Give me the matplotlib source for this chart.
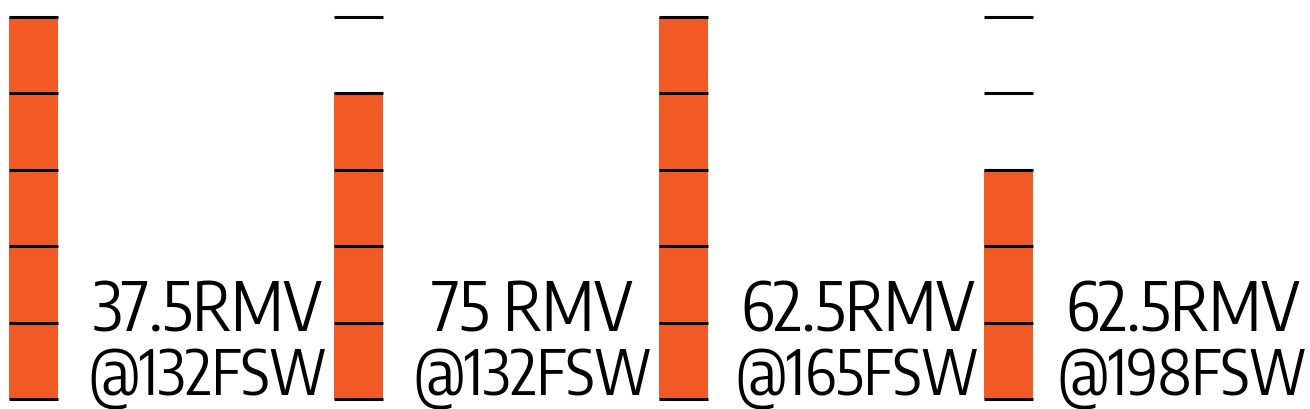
import matplotlib
matplotlib.use("Agg")
import matplotlib.pyplot as plt

# ---- data ----
levels = [5, 4, 5, 3]          # filled segments per tank
capacity = 5                   # total segments per tank
rmv_labels = ["37.5RMV", "75 RMV", "62.5RMV", "62.5RMV"]
depth_labels = ["@132FSW", "@132FSW", "@165FSW", "@198FSW"]

ORANGE = "#F15A24"
FAMILY = ["Encode Sans Condensed", "Fira Sans Condensed", "Liberation Sans", "DejaVu Sans"]

fig = plt.figure(figsize=(13.1, 4.09), dpi=100)
ax = fig.add_axes([0, 0, 1, 1])
ax.set_xlim(-0.1031, 3.9277)
ax.set_ylim(-0.131, 5.222)
ax.axis("off")

w = 0.151
x = list(range(len(levels)))
ax.bar(x, levels, width=w, color=ORANGE, align="center", linewidth=0, zorder=1)
for xi in x:
    ax.hlines(range(capacity + 1), xi - w / 2, xi + w / 2, colors="black",
              linewidth=2.2, zorder=2)
for xi, l1, l2 in zip(x, rmv_labels, depth_labels):
    ax.text(xi + 0.535, 0.877, l1, ha="center", va="baseline", fontsize=48,
            family=FAMILY, color="black")
    ax.text(xi + 0.535, 0.045, l2, ha="center", va="baseline", fontsize=44.5,
            family=FAMILY, color="black")

fig.savefig("out.png", dpi=100)
